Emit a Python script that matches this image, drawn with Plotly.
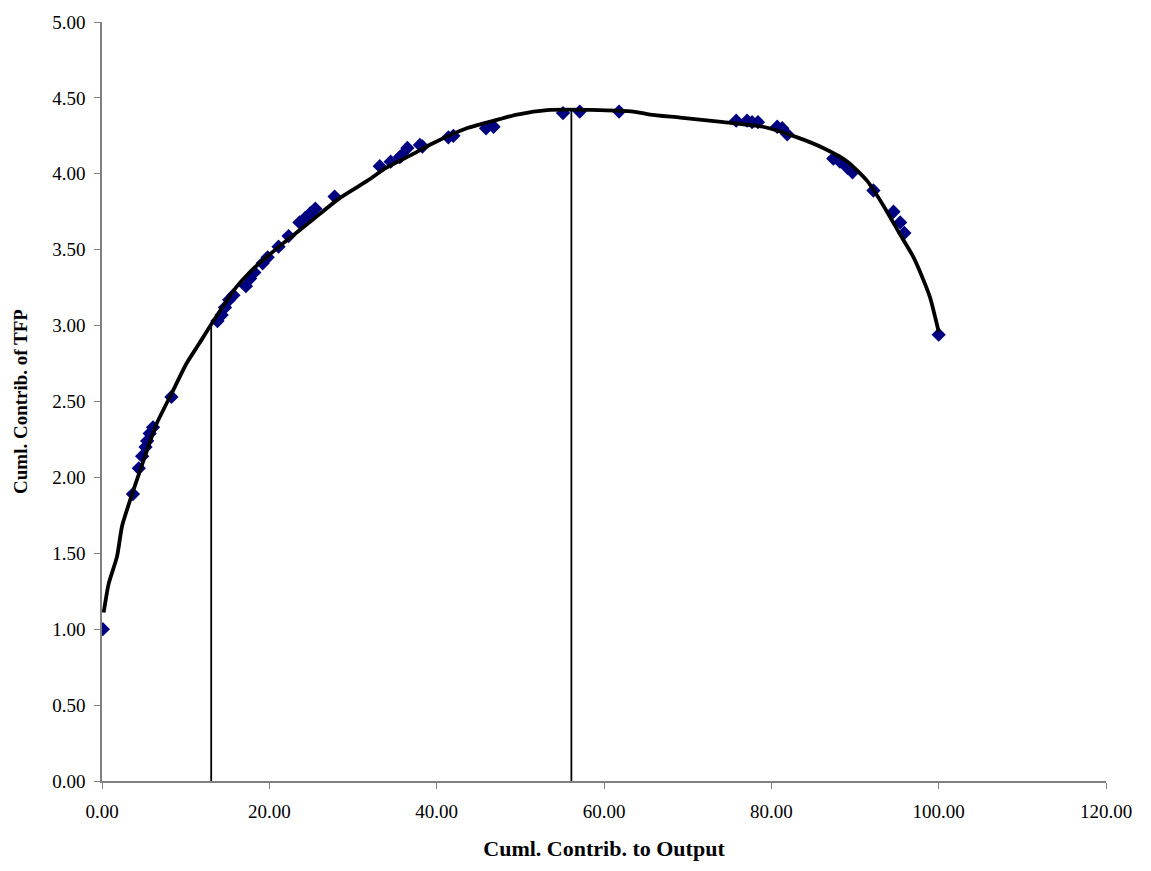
import plotly.graph_objects as go

# Observed data points (Cuml. contrib. to output, Cuml. contrib. of TFP)
pts_x = [0.1, 3.7, 4.4, 4.8, 5.2, 5.4, 5.7, 6.1, 8.3,
         13.8, 14.3, 14.7, 15.2, 15.7, 17.2, 17.7, 18.2, 19.2, 19.8, 21.1, 22.3,
         23.6, 24.3, 24.9, 25.5, 27.8, 33.2, 34.5, 35.6, 35.8, 36.5, 38.0, 38.3,
         41.4, 42.0, 45.9, 46.8, 55.1, 57.1, 61.8,
         75.8, 77.1, 77.7, 78.4, 80.7, 81.3, 81.9, 87.4, 88.2, 89.1, 89.7,
         92.2, 94.6, 95.4, 95.9, 100.0]
pts_y = [1.00, 1.89, 2.06, 2.14, 2.20, 2.24, 2.29, 2.33, 2.53,
         3.03, 3.07, 3.12, 3.17, 3.20, 3.26, 3.31, 3.35, 3.41, 3.45, 3.52, 3.59,
         3.68, 3.71, 3.74, 3.77, 3.85, 4.05, 4.08, 4.11, 4.12, 4.17, 4.19, 4.18,
         4.24, 4.25, 4.30, 4.31, 4.40, 4.41, 4.41,
         4.35, 4.35, 4.34, 4.34, 4.31, 4.30, 4.26, 4.10, 4.08, 4.04, 4.01,
         3.89, 3.75, 3.68, 3.61, 2.94]

# Fitted curve
fit_x = [0.2, 0.8, 1.8, 2.4, 3.6, 4.4, 6.5, 8.3, 10.1, 11.6, 13.2, 16.0, 18.6,
         21.6, 24.8, 28.4, 31.6, 34.0, 36.8, 39.5, 43.6, 47.5, 49.6, 53.2, 59.5,
         63.5, 65.5, 69.1, 74.3, 79.0, 83.1, 86.2, 89.1, 91.5, 93.4, 95.4, 97.0,
         98.4, 99.0, 100.0]
fit_y = [1.11, 1.30, 1.48, 1.68, 1.89, 2.02, 2.35, 2.55, 2.75, 2.88, 3.02, 3.25, 3.40,
         3.54, 3.68, 3.84, 3.95, 4.04, 4.12, 4.20, 4.30, 4.36, 4.39, 4.42, 4.42,
         4.41, 4.39, 4.37, 4.34, 4.31, 4.24, 4.17, 4.08, 3.95, 3.79, 3.60, 3.45,
         3.27, 3.18, 2.96]

# Vertical reference lines
vline_x = [13.05, 56.1]
vline_top = [3.02, 4.42]

x_ticks = [0, 20, 40, 60, 80, 100, 120]
y_ticks = [0, 0.5, 1, 1.5, 2, 2.5, 3, 3.5, 4, 4.5, 5]

fig = go.Figure()

for vx, vt in zip(vline_x, vline_top):
    fig.add_trace(go.Scatter(x=[vx, vx], y=[0, vt], mode="lines",
                             line=dict(color="black", width=1.8),
                             showlegend=False, hoverinfo="skip"))

fig.add_trace(go.Scatter(x=pts_x, y=pts_y, mode="markers",
                         marker=dict(symbol="diamond", color="#000080", size=11,
                                     line=dict(width=0)),
                         showlegend=False))

fig.add_trace(go.Scatter(x=fit_x, y=fit_y, mode="lines",
                         line=dict(color="black", width=3.8, shape="spline", smoothing=0.6),
                         showlegend=False))

font_family = "Liberation Serif, Times New Roman, serif"

fig.update_layout(
    width=1151, height=871,
    margin=dict(l=102, r=45, t=16, b=90),
    paper_bgcolor="white", plot_bgcolor="white",
    font=dict(family=font_family, size=19, color="black"),
    xaxis=dict(range=[0, 120], tickvals=x_ticks,
               tickformat=".2f", showgrid=False, zeroline=False,
               showline=True, linecolor="#808080", linewidth=1.5,
               ticks="outside", ticklen=6, tickcolor="#808080",
               ticklabelstandoff=6,
               title=dict(text="<b>Cuml. Contrib. to Output</b>",
                          font=dict(size=22, family=font_family), standoff=20)),
    yaxis=dict(range=[0, 5], tickvals=y_ticks,
               tickformat=".2f", showgrid=False, zeroline=False,
               showline=True, linecolor="#808080", linewidth=1.5,
               ticks="outside", ticklen=6, tickcolor="#808080",
               ticklabelstandoff=5,
               title=dict(text="<b>Cuml. Contrib. of TFP</b>",
                          font=dict(size=19, family=font_family), standoff=20)),
)

fig.write_html("out.html")
